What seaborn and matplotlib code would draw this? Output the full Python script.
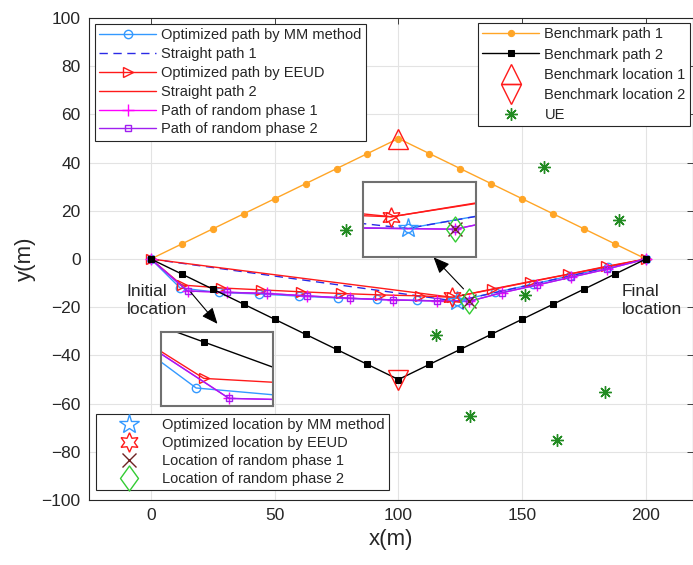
import matplotlib
matplotlib.use("Agg")
import matplotlib.pyplot as plt
import seaborn as sns
from matplotlib.path import Path

# ---- data -------------------------------------------------------------
bench_x = [0, 12.5, 25, 37.5, 50, 62.5, 75, 87.5, 100,
           112.5, 125, 137.5, 150, 162.5, 175, 187.5, 200]
bench1_y = [0, 6.25, 12.5, 18.75, 25, 31.25, 37.5, 43.75, 50,
            43.75, 37.5, 31.25, 25, 18.75, 12.5, 6.25, 0]
bench2_y = [0, -6.25, -12.5, -18.75, -25, -31.25, -37.5, -43.75, -50,
            -43.75, -37.5, -31.25, -25, -18.75, -12.5, -6.25, 0]

mm_x = [0, 11.8, 27.5, 43.6, 59.7, 75.7, 91.5, 107.5, 123.5, 139, 154.2, 169.3, 184.6, 200]
mm_y = [0, -12.0, -13.9, -14.5, -15.4, -16.2, -16.8, -17.2, -17.5, -13.9, -10.5, -7.0, -3.5, 0]

eeud_x = [0, 12.5, 28.2, 44.4, 60.5, 76.6, 92.7, 108.9, 121.8, 137.8, 153, 168.7, 183.8, 200]
eeud_y = [0, -10.8, -12.0, -12.8, -13.6, -14.3, -14.9, -15.3, -15.9, -12.5, -9.4, -6.3, -3.1, 0]

rand_x = [0, 14.8, 30.6, 46.8, 63.0, 80.6, 98.0, 115.6, 128.5, 141.8, 156.0, 169.6, 184.2, 200]
rand1_y = [0, -13.3, -13.8, -14.3, -15.3, -16.3, -17.0, -17.4, -17.6, -14.0, -10.8, -7.6, -4.2, 0]
rand2_y = [0, -13.3, -13.8, -14.3, -15.3, -16.3, -17.0, -17.4, -17.6, -14.0, -10.8, -7.6, -4.2, 0]

straight1_x = [0, 123.5, 200]
straight1_y = [0, -17.5, 0]
straight2_x = [0, 121.8, 200]
straight2_y = [0, -15.9, 0]

loc_mm = ([123.5], [-17.5])
loc_eeud = ([121.8], [-15.9])
loc_rand1 = ([128.5], [-17.6])
loc_rand2 = ([128.5], [-17.6])
bench_loc1 = ([100], [50])
bench_loc2 = ([100], [-50])

ue_x = [159, 189, 79, 151, 115, 129, 183.5, 164]
ue_y = [38, 16, 12, -15, -31.5, -65, -55.2, -75]

# ---- style ------------------------------------------------------------
sns.set_style("whitegrid")
plt.rcParams["font.family"] = ["Liberation Sans", "DejaVu Sans"]

C_MM = "#3399ff"
C_S1 = "#2a2ae6"
C_RED = "#ff1a1a"
C_MAG = "#ff00ff"
C_PUR = "#a020f0"
C_ORA = "#ffa526"
C_UE = "#228b22"
C_BROWN = "#6e2323"
C_DIA = "#33cc33"

diamond = Path([(0, 1), (0.72, 0), (0, -1), (-0.72, 0), (0, 1)],
               [Path.MOVETO, Path.LINETO, Path.LINETO, Path.LINETO, Path.CLOSEPOLY])


def draw(ax, x, y, label=None, **kw):
    sns.lineplot(x=x, y=y, ax=ax, sort=False, estimator=None, **kw)
    line = ax.lines[-1]
    if label:
        line.set_label(label)
    return line


def draw_all(ax):
    h = {}
    h["mm"] = draw(ax, mm_x, mm_y, color=C_MM, lw=1, marker="o", ms=6, mfc="none", mec=C_MM, mew=1,
                   label="Optimized path by MM method")
    h["s1"] = draw(ax, straight1_x, straight1_y, color=C_S1, lw=1, linestyle=(0, (6, 4)),
                   label="Straight path 1")
    h["eeud"] = draw(ax, eeud_x, eeud_y, color=C_RED, lw=1, marker=">", ms=7, mfc="none", mec=C_RED, mew=1,
                     label="Optimized path by EEUD")
    h["s2"] = draw(ax, straight2_x, straight2_y, color=C_RED, lw=1, label="Straight path 2")
    h["r1"] = draw(ax, rand_x, rand1_y, color=C_MAG, lw=1, marker="+", ms=8, mec=C_MAG, mew=1,
                   label="Path of random phase 1")
    h["r2"] = draw(ax, rand_x, rand2_y, color=C_PUR, lw=1, marker="s", ms=5, mfc="none", mec=C_PUR, mew=1,
                   label="Path of random phase 2")
    h["b1"] = draw(ax, bench_x, bench1_y, color=C_ORA, lw=1, marker="o", ms=4.5, mfc=C_ORA, mec=C_ORA,
                   label="Benchmark path 1")
    h["b2"] = draw(ax, bench_x, bench2_y, color="black", lw=1, marker="s", ms=4.5, mfc="black", mec="black",
                   label="Benchmark path 2")
    h["bl1"] = draw(ax, *bench_loc1, color=C_RED, linestyle="none", marker="^", ms=14, mfc="none",
                    mec=C_RED, mew=1, label="Benchmark location 1")
    h["bl2"] = draw(ax, *bench_loc2, color=C_RED, linestyle="none", marker="v", ms=14, mfc="none",
                    mec=C_RED, mew=1, label="Benchmark location 2")
    h["ue"] = draw(ax, ue_x, ue_y, color=C_UE, linestyle="none", marker=(8, 2, 0), ms=9,
                   mec=C_UE, mew=1, label="UE")
    h["lmm"] = draw(ax, *loc_mm, color=C_MM, linestyle="none", marker="*", ms=15, mfc="none",
                    mec=C_MM, mew=1, label="Optimized location by MM method")
    h["leeud"] = draw(ax, *loc_eeud, color=C_RED, linestyle="none", marker=(6, 1, 0), ms=14, mfc="none",
                      mec=C_RED, mew=1, label="Optimized location by EEUD")
    h["lr1"] = draw(ax, *loc_rand1, color=C_BROWN, linestyle="none", marker="x", ms=10,
                    mec=C_BROWN, mew=1, label="Location of random phase 1")
    h["lr2"] = draw(ax, *loc_rand2, color=C_DIA, linestyle="none", marker=diamond, ms=18, mfc="none",
                    mec=C_DIA, mew=1, label="Location of random phase 2")
    if ax.get_legend() is not None:
        ax.get_legend().remove()
    return h


W, H = 693, 565
fig = plt.figure(figsize=(W / 100, H / 100), dpi=100)
ax = fig.add_axes([89 / W, 1 - 500 / H, 604 / W, 482 / H])
h = draw_all(ax)

ax.set_xlim(-25, 219)
ax.set_ylim(-100, 100)
ax.set_xticks([0, 50, 100, 150, 200])
ax.set_yticks(range(-100, 101, 20))
ax.grid(True, color="#e3e3e3", lw=0.8)
ax.tick_params(direction="in", length=4, width=0.6, labelsize=12.5, colors="#262626",
               top=True, right=True, pad=6)
for s in ax.spines.values():
    s.set_color("#262626")
    s.set_linewidth(0.8)
ax.set_xlabel("x(m)", fontsize=16, labelpad=4)
ax.set_ylabel("y(m)", fontsize=16, labelpad=4)

ax.text(-9.7, -17.2, "Initial\nlocation", fontsize=12.5, ha="left", va="center")
ax.text(190.2, -17.2, "Final\nlocation", fontsize=12.5, ha="left", va="center")

arrow = dict(arrowstyle="-|>,head_length=0.7,head_width=0.3", color="black", lw=0.8,
             mutation_scale=14, shrinkA=0, shrinkB=0)
ax.annotate("", xy=(26.9, -26.9), xytext=(16.1, -13.8), arrowprops=arrow)
ax.annotate("", xy=(114.2, 0.7), xytext=(126.3, -12.4), arrowprops=arrow)

leg_kw = dict(fontsize=10.5, frameon=True, fancybox=False, framealpha=1, edgecolor="#262626",
              handlelength=3.9, handletextpad=0.35, borderpad=0.3,
              borderaxespad=0, numpoints=1, bbox_transform=fig.transFigure)
l1 = ax.legend(handles=[h[k] for k in ["mm", "s1", "eeud", "s2", "r1", "r2"]],
               loc="upper left", bbox_to_anchor=(95 / W, 1 - 24 / H), labelspacing=0.33, **leg_kw)
l1.get_frame().set_linewidth(0.8)
ax.add_artist(l1)
l2 = ax.legend(handles=[h[k] for k in ["b1", "b2", "bl1", "bl2", "ue"]],
               loc="upper right", bbox_to_anchor=(690 / W, 1 - 23 / H), labelspacing=0.42, **leg_kw)
l2.get_frame().set_linewidth(0.8)
ax.add_artist(l2)
l3 = ax.legend(handles=[h[k] for k in ["lmm", "leeud", "lr1", "lr2"]],
               loc="lower left", bbox_to_anchor=(96 / W, 1 - 490 / H), labelspacing=0.26, **leg_kw)
l3.get_frame().set_linewidth(0.8)

# ---- zoomed insets ----------------------------------------------------
for rect, xl, yl in [((363, 182, 113, 75), (118.8, 130.7), (-21.4, -11.15)),
                     ((161, 332, 112, 74), (8.6, 18.8), (-14.25, -5.0))]:
    px, py, pw, ph = rect
    ins = fig.add_axes([px / W, 1 - (py + ph) / H, pw / W, ph / H])
    ins.set_facecolor("white")
    draw_all(ins)
    ins.set_xlim(*xl)
    ins.set_ylim(*yl)
    ins.grid(False)
    ins.set_xticks([])
    ins.set_yticks([])
    ins.set_xlabel("")
    ins.set_ylabel("")
    for s in ins.spines.values():
        s.set_color("#707070")
        s.set_linewidth(1.5)

fig.savefig("out.png", dpi=100)
